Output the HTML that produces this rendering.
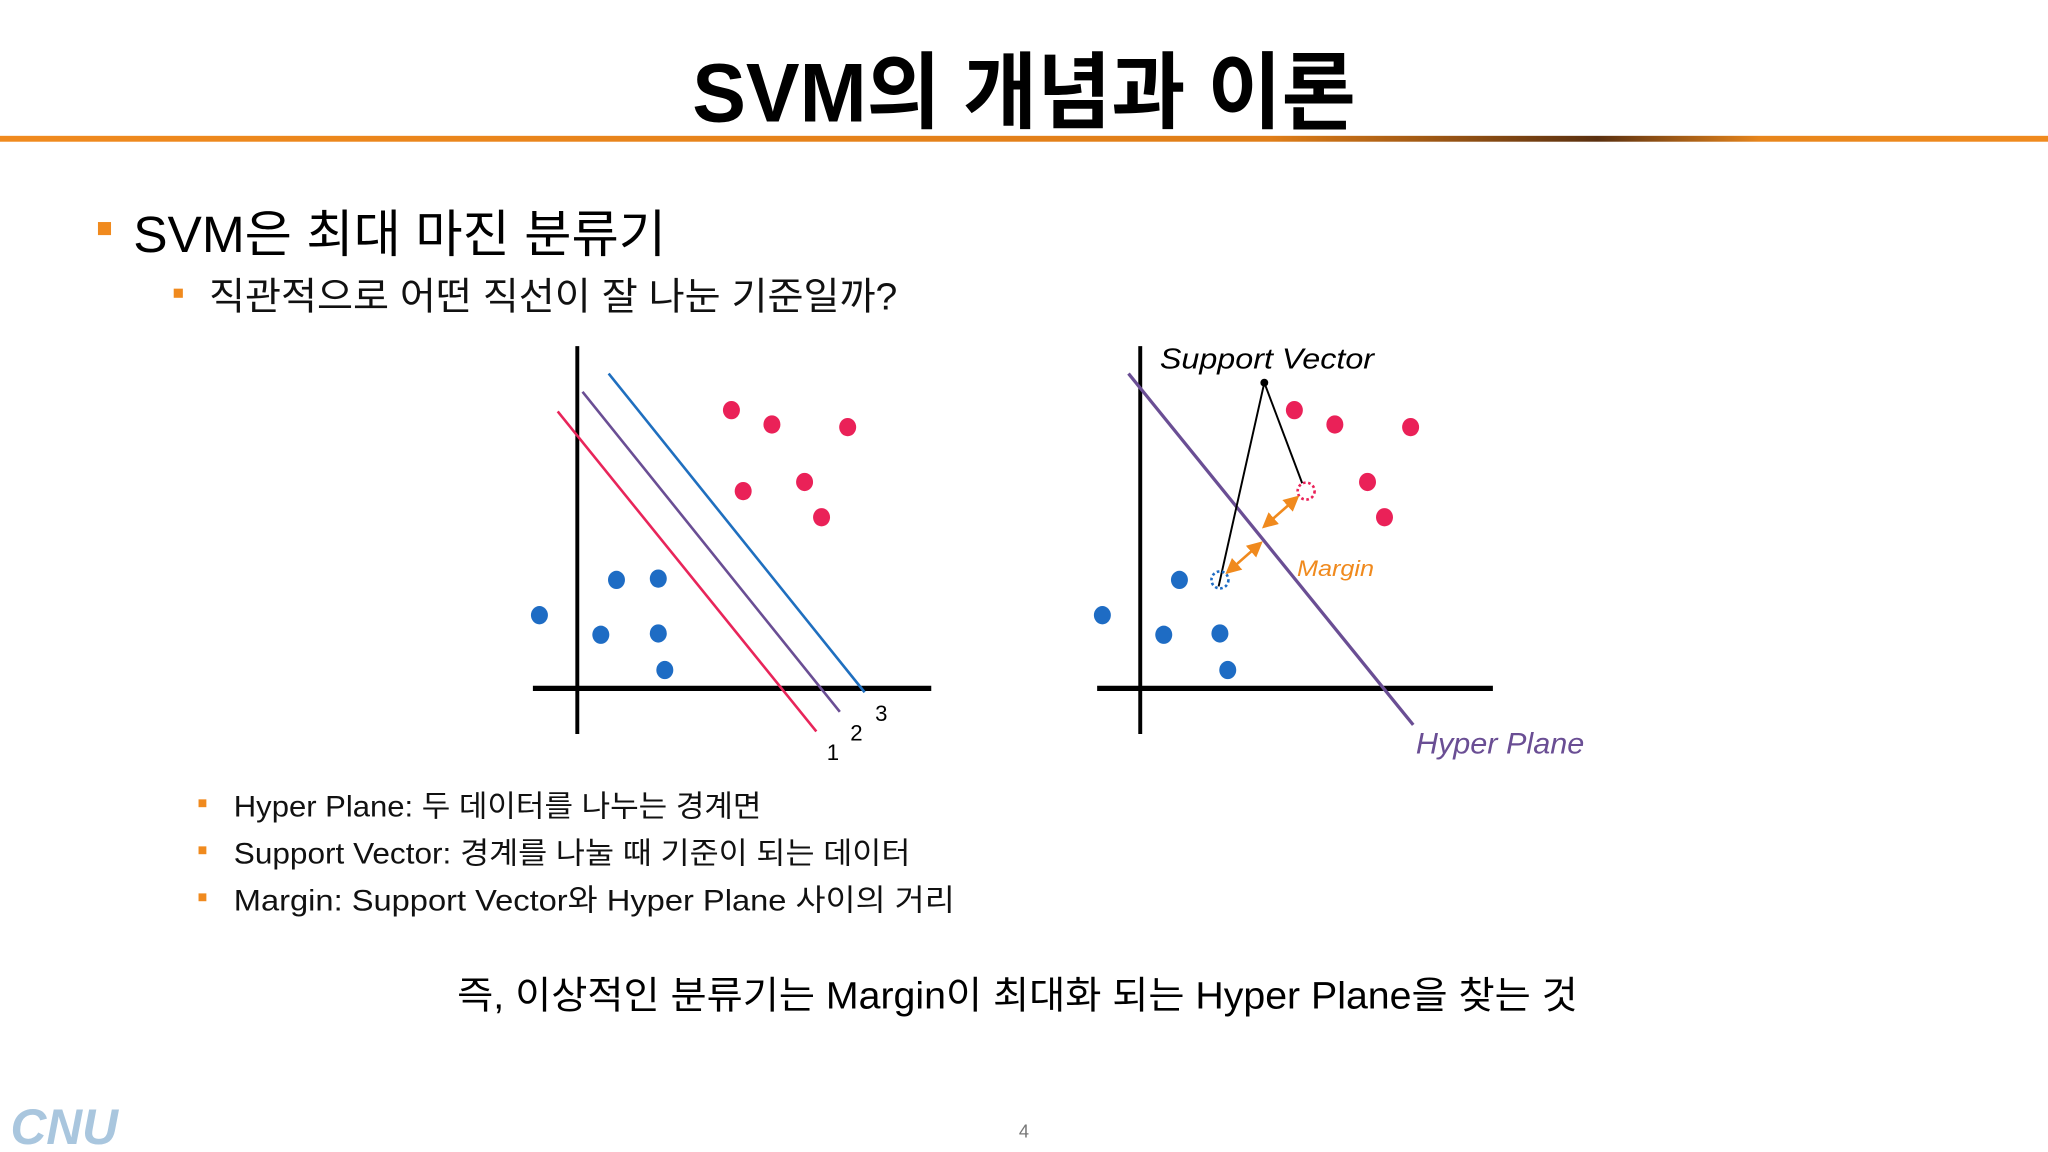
<!DOCTYPE html>
<html><head><meta charset="utf-8"><style>
html,body{margin:0;padding:0;background:#fff;}
svg{display:block;}
text{font-family:"Liberation Sans","Noto Sans CJK KR",sans-serif;}
</style></head><body>
<svg width="2048" height="1152" viewBox="0 0 1568 882" id="root">
<defs>
<linearGradient id="og" x1="0" x2="1" y1="0" y2="0">
<stop offset="0" stop-color="#f08a1e"/><stop offset="0.62" stop-color="#e07e18"/>
<stop offset="0.78" stop-color="#5a3010"/><stop offset="0.86" stop-color="#e8861c"/><stop offset="1" stop-color="#f08a1e"/>
</linearGradient>
<marker id="ah" viewBox="0 0 10 10" refX="8" refY="5" markerWidth="6" markerHeight="6" orient="auto-start-reverse"><path d="M0,0L10,5L0,10z" fill="#f08a1e"/></marker>
</defs>
<text x="530" y="93" textLength="508" lengthAdjust="spacingAndGlyphs" font-size="64" font-weight="bold" fill="#000">SVM의 개념과 이론</text>
<rect x="0" y="104" width="1568" height="4.5" fill="url(#og)"/>
<rect x="75" y="170" width="10" height="10" fill="#f08a1e"/>
<text x="102" y="193" textLength="408" lengthAdjust="spacingAndGlyphs" font-size="39" fill="#000">SVM은 최대 마진 분류기</text>
<rect x="133" y="221" width="7" height="7" fill="#f08a1e"/>
<text x="160" y="237" textLength="527" lengthAdjust="spacingAndGlyphs" font-size="29" fill="#111">직관적으로 어떤 직선이 잘 나눈 기준일까?</text>
<g id="left"></g>
<g id="right"></g>
<g font-size="23" fill="#111">
<rect x="152" y="612" width="6" height="6" fill="#f08a1e"/><text x="179" y="625" textLength="404" lengthAdjust="spacingAndGlyphs">Hyper Plane: 두 데이터를 나누는 경계면</text>
<rect x="152" y="648" width="6" height="6" fill="#f08a1e"/><text x="179" y="661" textLength="518" lengthAdjust="spacingAndGlyphs">Support Vector: 경계를 나눌 때 기준이 되는 데이터</text>
<rect x="152" y="684" width="6" height="6" fill="#f08a1e"/><text x="179" y="697" textLength="552" lengthAdjust="spacingAndGlyphs">Margin: Support Vector와 Hyper Plane 사이의 거리</text>
</g>
<text x="350" y="772" textLength="858" lengthAdjust="spacingAndGlyphs" font-size="29" fill="#000">즉, 이상적인 분류기는 Margin이 최대화 되는 Hyper Plane을 찾는 것</text>
<text x="784" y="871" text-anchor="middle" font-size="14" fill="#777">4</text>
<text x="8" y="876" font-size="38" font-weight="bold" font-style="italic" fill="#a9c6de">CNU</text>
</svg>
<script>
const redX=[118,149,207,127,174,187], redY=[213,202,200,151,158,131];
const blueX=[30,62,-29,18,62,67], blueY=[83,84,56,41,42,14];
const leftLinesX1=[-15,4,24], leftLinesY1=[212,227,241], leftLinesX2=[183,201,220], leftLinesY2=[-33,-18,-3];
const lineLabels=["1","2","3"];
const rRedX=[118,149,207,174,187], rRedY=[213,202,200,158,131];
const rBlueX=[30,-29,18,61,67], rBlueY=[83,56,41,42,14];
const svX=[127,61], svY=[151,83];
const NS="http://www.w3.org/2000/svg";
function mk(p,t,a){const e=document.createElementNS(NS,t);for(const k in a)e.setAttribute(k,a[k]);p.appendChild(e);return e;}
function axes(g,ox,oy,x0,x1){
 const fx=v=>ox+v, fy=v=>oy-v;
 let a=mk(g,'line',{x1:ox,y1:265,x2:ox,y2:562,stroke:'#000','stroke-width':3});
 
 a=mk(g,'line',{x1:x0,y1:oy,x2:x1,y2:oy,stroke:'#000','stroke-width':4});
 
 return [fx,fy];
}
function dots(g,xs,ys,fx,fy,c,name){xs.forEach((x,i)=>{const e=mk(g,'ellipse',{cx:fx(x),cy:fy(ys[i]),rx:6.5,ry:7,fill:c});
 });}
const L=document.getElementById('left');
let [fx,fy]=axes(L,442,527,408,713);
const lc=['#e8255a','#6a4e94','#1f6fbf'];
leftLinesX1.forEach((x,i)=>{const e=mk(L,'line',{x1:fx(x),y1:fy(leftLinesY1[i]),x2:fx(leftLinesX2[i]),y2:fy(leftLinesY2[i]),stroke:lc[i],'stroke-width':2});
 
 const t=mk(L,'text',{x:fx(leftLinesX2[i])+8,y:fy(leftLinesY2[i])+22,'font-size':17,fill:'#000'});t.textContent=lineLabels[i];
 });
dots(L,redX,redY,fx,fy,'#ea2158','red-point');
dots(L,blueX,blueY,fx,fy,'#1e6cc4','blue-point');
const R=document.getElementById('right');
[fx,fy]=axes(R,873,527,840,1143);
let e=mk(R,'line',{x1:864,y1:286,x2:1082,y2:555,stroke:'#6a4e94','stroke-width':2.5});

dots(R,rRedX,rRedY,fx,fy,'#ea2158','red-point');
dots(R,rBlueX,rBlueY,fx,fy,'#1e6cc4','blue-point');
const px=968,py=293;
svX.forEach((x,i)=>{const l=mk(R,'line',{x1:px,y1:py,x2:fx(x)+(i?-1:-3),y2:fy(svY[i])+(i?5:-6),stroke:'#000','stroke-width':1.5});
 
 const c=mk(R,'circle',{cx:fx(x),cy:fy(svY[i]),r:6.5,fill:'none',stroke:i?'#1e6cc4':'#ea2158','stroke-width':2,'stroke-dasharray':'2 2'});
 });
e=mk(R,'circle',{cx:px,cy:py,r:3,fill:'#000'});

e=mk(R,'line',{x1:968,y1:403,x2:993,y2:381,stroke:'#f08a1e','stroke-width':2,'marker-start':'url(#ah)','marker-end':'url(#ah)'});

e=mk(R,'line',{x1:940,y1:438,x2:965,y2:416,stroke:'#f08a1e','stroke-width':2,'marker-start':'url(#ah)','marker-end':'url(#ah)'});

function txt(x,y,s,c,str,n,len){const t=mk(R,'text',{x:x,y:y,'font-size':s,'font-style':'italic',fill:c,textLength:len,lengthAdjust:'spacingAndGlyphs'});t.textContent=str;
 }
txt(888,282,22,'#000','Support Vector','support-vector-label',164);
txt(993,441,17,'#f08a1e','Margin','margin-label',59);
txt(1084,577,23,'#6a4e94','Hyper Plane','hyper-plane-label',129);
</script>
</body></html>
